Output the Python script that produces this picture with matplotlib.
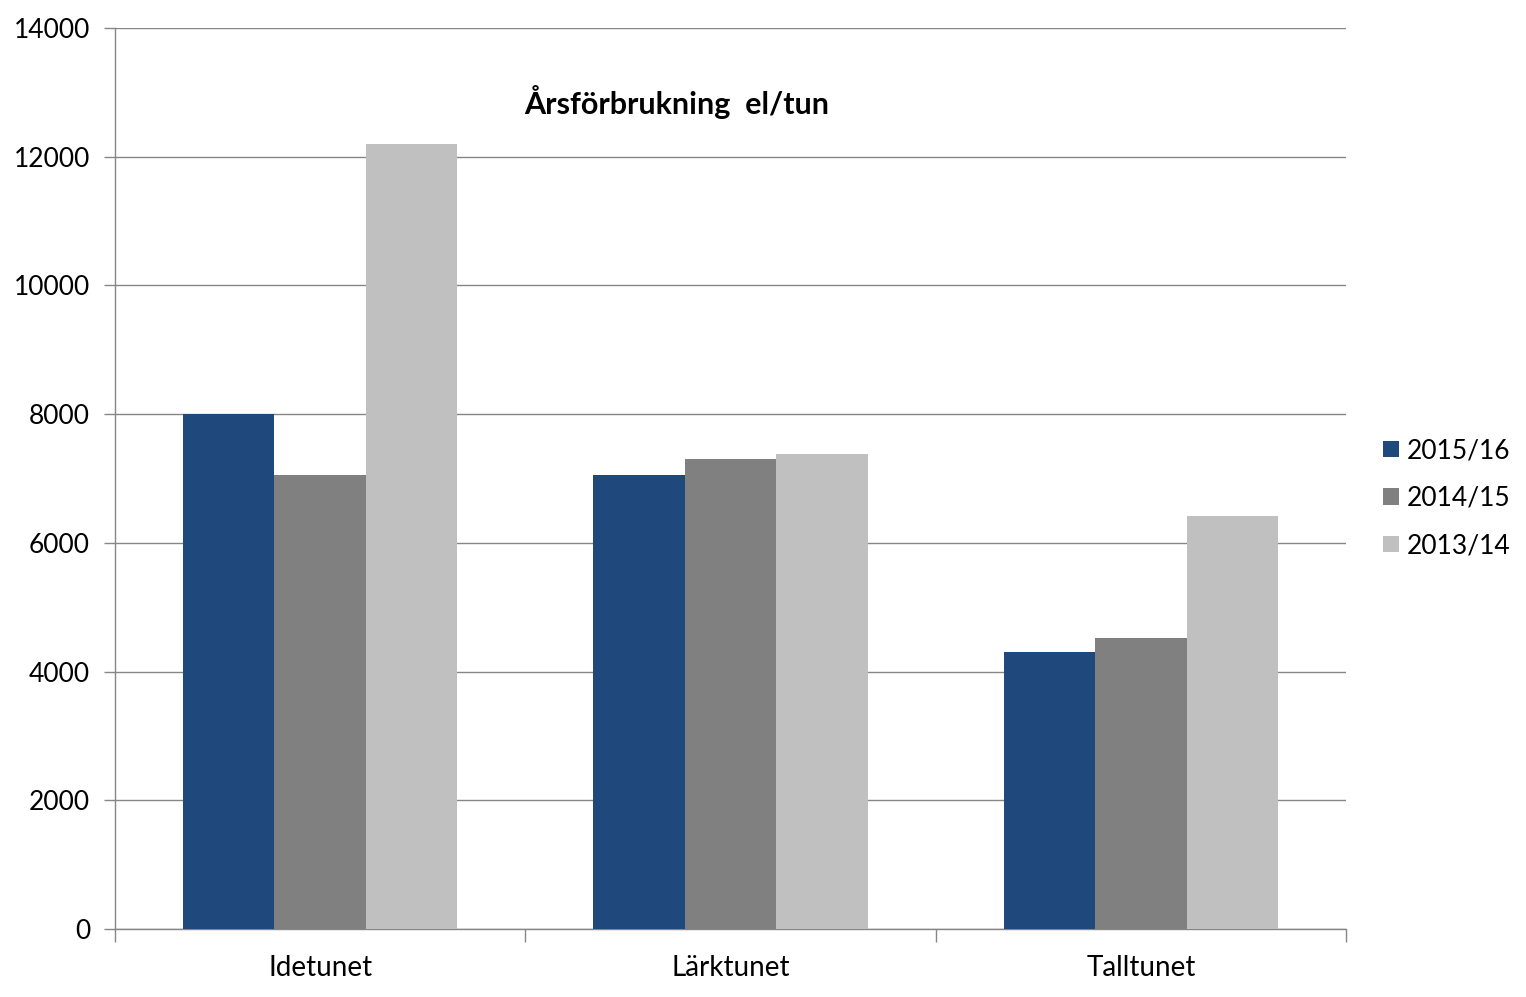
import numpy as np
import matplotlib.pyplot as plt

# Annual electricity use per unit
categories = ["Idetunet", "Lärktunet", "Talltunet"]
series_names = ["2015/16", "2014/15", "2013/14"]
values_2015_16 = [8000, 7050, 4300]
values_2014_15 = [7050, 7300, 4520]
values_2013_14 = [12200, 7380, 6420]
colors = ["#1F497D", "#808080", "#C0C0C0"]

plt.rcParams["font.family"] = ["Lato", "DejaVu Sans"]

fig = plt.figure(figsize=(15.26, 9.97), dpi=100)
ax = fig.add_axes([115 / 1526, 1 - 929 / 997, (1346 - 115) / 1526, (929 - 28) / 997])

x = np.arange(len(categories))
w = 0.2226
for i, (name, vals) in enumerate(zip(series_names, [values_2015_16, values_2014_15, values_2013_14])):
    ax.bar(x + (i - 1) * w, vals, width=w, color=colors[i], label=name, zorder=3)

ax.set_xlim(-0.5, len(categories) - 0.5)
ax.set_ylim(0, 14000)
ax.set_yticks(range(0, 14001, 2000))
ax.yaxis.grid(True, color="#868686", linewidth=1, zorder=0)

# category labels centered, tick marks at boundaries
ax.set_xticks(x)
ax.set_xticklabels(categories, fontsize=20)
ax.tick_params(axis="x", length=0, pad=19)
ax.set_xticks(np.arange(-0.5, len(categories)), minor=True)
ax.tick_params(axis="x", which="minor", length=9, color="#868686", width=1)
ax.tick_params(axis="y", labelsize=19, length=8, color="#868686", width=1, pad=10)

for side in ["top", "right"]:
    ax.spines[side].set_visible(False)
for side in ["left", "bottom"]:
    ax.spines[side].set_color("#868686")
    ax.spines[side].set_linewidth(1)

ax.text(0.456, 0.918, "Årsförbrukning  el/tun", transform=ax.transAxes,
        ha="center", va="center", fontsize=22, fontweight="bold")

ax.legend(loc="center left", bbox_to_anchor=(1.0105, 0.478), frameon=False,
          fontsize=19, handlelength=0.6, handleheight=0.6, handletextpad=0.3,
          labelspacing=0.85)

fig.savefig("out.png", dpi=100)
